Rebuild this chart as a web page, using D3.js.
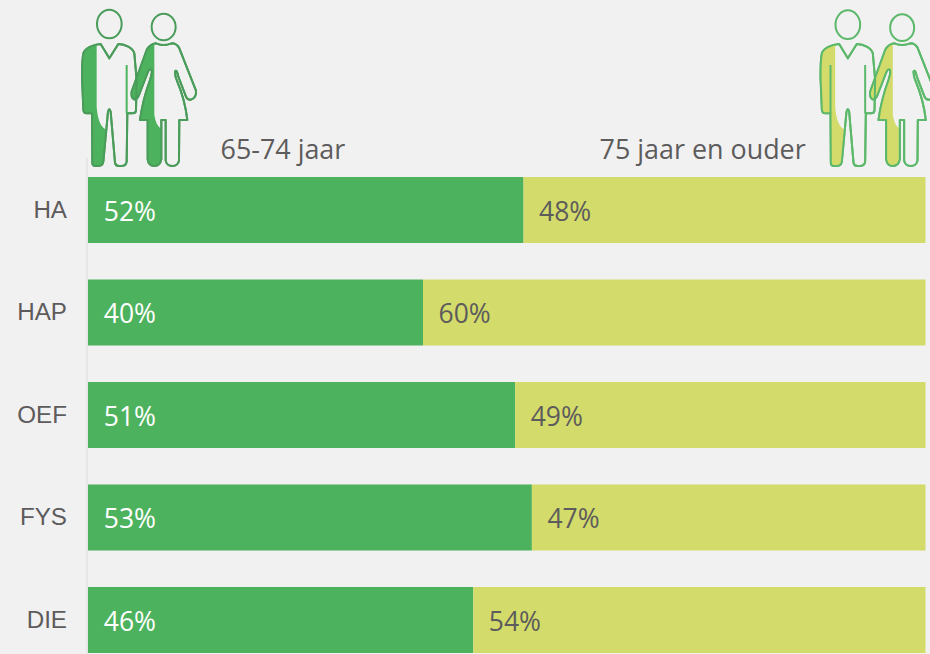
<!DOCTYPE html>
<html><head><meta charset="utf-8">
<script src="https://cdn.jsdelivr.net/npm/d3@7"></script>
<style>html,body{margin:0;padding:0;background:#f1f1f1;overflow:hidden}svg{display:block}</style>
</head><body><svg id="c" width="930" height="654"></svg>
<script>
const categories = ["HA","HAP","OEF","FYS","DIE"];
const younger = [52,40,51,53,46];
const older = [48,60,49,47,54];
const seriesNames = ["65-74 jaar","75 jaar en ouder"];

const svg = d3.select("#c");
const x = d3.scaleLinear().domain([0,100]).range([88,925.5]);
const y = d3.scaleBand().domain(categories).range([177,653]).paddingInner(0.356).paddingOuter(0);

svg.append("line").attr("x1",87).attr("x2",87).attr("y1",158).attr("y2",654)
  .attr("stroke","#e6e6e6").attr("stroke-width",2);

const axis = svg.append("g").attr("transform","translate(67,0)")
  .call(d3.axisLeft(y).tickSize(0).tickPadding(0));
axis.select(".domain").remove();
axis.selectAll("text").attr("font-family","'Liberation Sans'").attr("font-size",24.2).attr("fill","#5d5b5b");

const labelFont = "'Open Sans'";
const rows = categories.map((c,i)=>({c,a:younger[i],b:older[i]}));
const g = svg.append("g").selectAll("g").data(rows).join("g");
g.append("rect").attr("x",x(0)).attr("y",d=>y(d.c)).attr("width",d=>x(d.a)-x(0)).attr("height",y.bandwidth()).attr("fill","#4db25d");
g.append("rect").attr("x",d=>x(d.a)).attr("y",d=>y(d.c)).attr("width",d=>x(d.a+d.b)-x(d.a)).attr("height",y.bandwidth()).attr("fill","#d3dc6b");
g.append("text").attr("x",x(0)+15.8).attr("y",d=>y(d.c)+y.bandwidth()/2+1).attr("dy","0.36em")
  .attr("font-family",labelFont).attr("font-size",26.5).attr("fill","#fff").text(d=>d.a+"%");
g.append("text").attr("x",d=>x(d.a)+15.5).attr("y",d=>y(d.c)+y.bandwidth()/2+1).attr("dy","0.36em")
  .attr("font-family",labelFont).attr("font-size",26.5).attr("fill","#5d5b5b").text(d=>d.b+"%");

svg.append("text").attr("x",220.5).attr("y",159).attr("font-family",labelFont).attr("font-size",26.9).attr("fill","#5d5b5b").text(seriesNames[0]);
svg.append("text").attr("x",599.5).attr("y",159).attr("font-family",labelFont).attr("font-size",26.9).attr("fill","#5d5b5b").text(seriesNames[1]);

// Pictograms, outlined in zoom-space units (3 units = 1 px)
const man = "M92 132 L118 175 L145 132 C165 133 188 142 193 160 L200 240 L198 332 Q197 340 188 340 L172 340 L170 485 Q168 498 155 498 L147 498 Q136 498 135 488 L122 335 Q118 320 114 335 L100 485 Q98 498 85 498 L78 498 Q67 498 67 488 L66 340 L50 340 Q41 340 40 328 L36 230 Q36 180 40 160 C45 145 70 133 92 132 Z";
const woman = "M258 130 Q280 140 305 130 Q320 130 328 145 L378 272 Q380 295 362 299 Q352 300 348 290 L325 230 Q320 205 315 215 Q315 230 322 245 Q345 300 352 360 L328 360 L327 482 Q324 498 307 498 Q290 498 287 482 L287 360 L274 360 L274 478 Q270 498 253 498 Q236 498 233 478 L233 360 L210 360 Q218 300 240 240 Q250 210 242 208 Q236 208 232 220 L207 285 Q200 300 192 298 Q182 292 185 275 L230 150 Q240 132 258 130 Z";
const defs = svg.append("defs");
defs.append("clipPath").attr("id","manClip").append("path").attr("d","M0 0 L80 0 L80 320 Q84 375 106 388 L106 520 L0 520 Z");
defs.append("clipPath").attr("id","womanClip").append("path").attr("d","M150 0 L253 0 L253 345 Q258 378 274 386 L274 520 L150 520 Z");

function pictogram(dx,dyHead,fill,stroke,innerStroke,leftLine){
  const p = svg.append("g").attr("transform",`translate(${dx},0) scale(0.3333)`)
    .attr("fill","none").attr("stroke",stroke).attr("stroke-width",6).attr("stroke-linejoin","round");
  p.append("path").attr("d",man).attr("fill","#f1f1f1");
  p.append("path").attr("d",man).attr("fill",fill).attr("stroke","none").attr("clip-path","url(#manClip)");
  p.append("path").attr("d",woman).attr("fill","#f1f1f1");
  p.append("path").attr("d",woman).attr("fill",fill).attr("stroke","none").attr("clip-path","url(#womanClip)");
  p.append("path").attr("d",man);
  p.append("path").attr("d",woman);
  p.append("path").attr("d","M170 195 L170 340").attr("stroke",innerStroke);
  if (leftLine) p.append("path").attr("d","M66 195 L66 340").attr("stroke",innerStroke);
  p.append("ellipse").attr("cx",118).attr("cy",72+dyHead).attr("rx",37).attr("ry",43);
  p.append("ellipse").attr("cx",281).attr("cy",81+dyHead).attr("rx",36).attr("ry",40);
}
pictogram(70,0,"#4db25d","#4a9c5a","#4db25d",false);
pictogram(808.5,2,"#d3dc6b","#5cb86a","#5cb86a",true);
</script></body></html>
